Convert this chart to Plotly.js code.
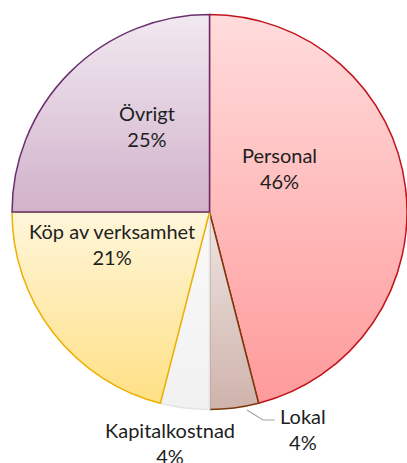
<!DOCTYPE html>
<html>
<head>
<meta charset="utf-8">
<script src="https://cdn.plot.ly/plotly-3.0.1.min.js"></script>
<style>html,body{margin:0;padding:0;background:#fff;overflow:hidden}</style>
</head>
<body>
<div id="chart" style="width:407px;height:463px"></div>
<script>
// Data
const categories = ["Personal", "Lokal", "Kapitalkostnad", "Köp av verksamhet", "Övrigt"];
const shares = [46, 4, 4, 21, 25];
const percentLabels = ["46%", "4%", "4%", "21%", "25%"];

// Styles
const fillColors = ["#FFBCBC", "#DCC7C1", "#F4F4F4", "#FFEBAE", "#E1CDDE"];
const gradTop    = ["#FFDCDC", "#EFE5E2", "#F9F9F9", "#FFF6DA", "#F1E9F1"];
const gradBottom = ["#FF9A9A", "#CFB3AC", "#F1F1F1", "#FFE084", "#D1B2CA"];
const lineColors = ["#C0141E", "#7B3A0B", "#E4E4E4", "#EDB000", "#6B2F6E"];
// label anchor positions (paper coords), one per category
const labelX = [0.678, 0.737, 0.400, 0.254, 0.343];
const labelY = [0.612, -0.047, -0.083, 0.420, 0.718];

const FONT = "Lato, 'Open Sans', sans-serif";

const trace = {
  type: "pie",
  labels: categories,
  values: shares,
  sort: false,
  direction: "clockwise",
  rotation: 0,
  textinfo: "none",
  hoverinfo: "label+percent",
  marker: { colors: fillColors, line: { color: lineColors, width: 1.5 } },
  domain: { x: [0, 1], y: [0, 1] }
};

const annotations = categories.map((c, i) => ({
  xref: "paper", yref: "paper",
  x: labelX[i], y: labelY[i],
  xanchor: "center", yanchor: "middle",
  text: c + "<br>" + percentLabels[i],
  showarrow: false,
  font: { family: FONT, size: 20, color: "#1e1e1e" }
}));

const layout = {
  width: 407, height: 463,
  margin: { l: 12, r: 0, t: 14, b: 53, pad: 0 },
  paper_bgcolor: "#ffffff",
  showlegend: false,
  font: { family: FONT },
  annotations: annotations,
  shapes: [{
    type: "path", xref: "paper", yref: "paper",
    path: "M 0.595 0.0 L 0.6354 -0.0253 L 0.6658 -0.0253",
    line: { color: "#A6A6A6", width: 1.2 }
  }]
};

Plotly.newPlot("chart", [trace], layout, { displayModeBar: false, staticPlot: true }).then(gd => {
  // vertical gradient fill per slice, like the original
  const svg = gd.querySelector("svg.main-svg");
  const NS = "http://www.w3.org/2000/svg";
  let defs = svg.querySelector("defs");
  if (!defs) { defs = document.createElementNS(NS, "defs"); svg.insertBefore(defs, svg.firstChild); }
  const paths = gd.querySelectorAll("g.slice path.surface");
  paths.forEach((p, i) => {
    const g = document.createElementNS(NS, "linearGradient");
    g.setAttribute("id", "sliceGrad" + i);
    g.setAttribute("x1", "0"); g.setAttribute("y1", "0");
    g.setAttribute("x2", "0"); g.setAttribute("y2", "1");
    [[0, gradTop[i]], [1, gradBottom[i]]].forEach(([o, c]) => {
      const s = document.createElementNS(NS, "stop");
      s.setAttribute("offset", String(o));
      s.setAttribute("stop-color", c);
      g.appendChild(s);
    });
    defs.appendChild(g);
    p.style.fill = "url(#sliceGrad" + i + ")";
  });
});
</script>
</body>
</html>
